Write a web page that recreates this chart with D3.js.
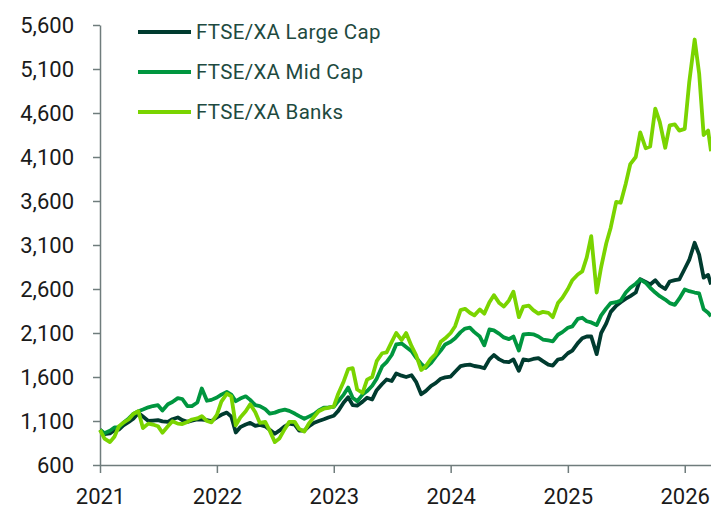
<!DOCTYPE html>
<html>
<head>
<meta charset="utf-8">
<title>FTSE/XA</title>
<style>
  body { margin: 0; background: #fff; }
  svg { display: block; font-family: 'Roboto', 'Noto Sans', sans-serif; }
</style>
<script src="https://d3js.org/d3.v7.min.js"></script>
</head>
<body>
<div id="chart"></div>
<script>
const WIDTH = 711;
const HEIGHT = 508;

// semi-monthly dates (1st and 15th), last point = last day shown
const dates = [];
for (let y = 2021; y <= 2026; y++) {
  for (let m = 1; m <= 12; m++) {
    if (y === 2026 && m > 3) break;
    const mm = String(m).padStart(2, '0');
    dates.push(`${y}-${mm}-01`, `${y}-${mm}-15`);
  }
}
dates.push('2026-03-24');

const largeCap = [
  1000, 950, 960, 995, 1003, 1050, 1090, 1125, 1190, 1150, 1100, 1105,
  1110, 1095, 1090, 1120, 1140, 1110, 1090, 1105, 1117, 1115, 1110, 1100,
  1140, 1170, 1196, 1150, 970, 1030, 1060, 1079, 1045, 1055, 1040, 1000,
  955, 990, 1040, 1070, 1060, 990, 990, 1040, 1080, 1100, 1120, 1140,
  1160, 1215, 1310, 1370, 1280, 1275, 1320, 1364, 1345, 1450, 1520, 1572,
  1555, 1640, 1615, 1600, 1620, 1545, 1405, 1440, 1500, 1530, 1580, 1595,
  1605, 1660, 1723, 1735, 1740, 1725, 1715, 1700, 1800, 1850, 1800, 1775,
  1770, 1800, 1670, 1799, 1790, 1805, 1815, 1780, 1740, 1730, 1799, 1810,
  1870, 1900, 1985, 2040, 2060, 2060, 1860, 2100, 2210, 2340, 2410, 2450,
  2490, 2520, 2560, 2710, 2680, 2651, 2700, 2640, 2600, 2685, 2700, 2708,
  2830, 2930, 3125, 2990, 2730, 2760, 2651
];

const midCap = [
  1000, 960, 990, 1026, 1026, 1080, 1130, 1180, 1211, 1230, 1255, 1270,
  1280, 1220, 1290, 1315, 1360, 1350, 1268, 1270, 1310, 1470, 1330, 1340,
  1367, 1400, 1430, 1400, 1325, 1355, 1380, 1340, 1280, 1270, 1235, 1185,
  1195, 1215, 1230, 1215, 1185, 1155, 1125, 1150, 1180, 1220, 1253, 1255,
  1260, 1325, 1400, 1480, 1364, 1325, 1400, 1440, 1500, 1580, 1720, 1770,
  1850, 1970, 1980, 1940, 1893, 1820, 1750, 1705, 1760, 1830, 1900, 1970,
  2000, 2040, 2110, 2150, 2160, 2110, 2060, 1960, 2140, 2130, 2090, 2050,
  2030, 2060, 1900, 2083, 2090, 2085, 2060, 2026, 2015, 2005, 2080, 2110,
  2159, 2175, 2260, 2273, 2234, 2220, 2190, 2300, 2380, 2440, 2450, 2470,
  2560, 2614, 2660, 2708, 2670, 2614, 2560, 2518, 2480, 2440, 2420, 2490,
  2594, 2575, 2560, 2550, 2370, 2330, 2290
];

const banks = [
  1000, 900, 860, 920, 1041, 1080, 1120, 1180, 1211, 1020, 1070, 1060,
  1041, 966, 1040, 1098, 1070, 1065, 1090, 1117, 1130, 1155, 1100, 1085,
  1170, 1320, 1410, 1380, 1050, 1140, 1211, 1290, 1200, 1079, 1090, 990,
  860, 900, 1010, 1090, 1090, 1010, 980, 1070, 1150, 1211, 1240, 1250,
  1265, 1410, 1550, 1690, 1700, 1458, 1420, 1570, 1600, 1780, 1870, 1880,
  2000, 2100, 2020, 2100, 1950, 1850, 1680, 1720, 1810, 1860, 2000, 2040,
  2100, 2177, 2360, 2375, 2330, 2300, 2367, 2320, 2450, 2530, 2440, 2400,
  2470, 2570, 2280, 2400, 2410, 2360, 2320, 2340, 2330, 2280, 2440, 2500,
  2600, 2700, 2765, 2800, 2960, 3200, 2560, 2850, 3120, 3300, 3590, 3580,
  3800, 4020, 4100, 4380, 4200, 4220, 4650, 4500, 4205, 4460, 4470, 4400,
  4420, 4950, 5435, 5050, 4350, 4400, 4166
];

const seriesNames = ['FTSE/XA Large Cap', 'FTSE/XA Mid Cap', 'FTSE/XA Banks'];
const seriesColors = ['#003b2f', '#00963f', '#7ad400'];
const yTicks = [600, 1100, 1600, 2100, 2600, 3100, 3600, 4100, 4600, 5100, 5600];
const xTicks = ['2021', '2022', '2023', '2024', '2025', '2026'];

const parse = d3.timeParse('%Y-%m-%d');
const series = [largeCap, midCap, banks].map(function (vals, i) {
  return {
    name: seriesNames[i],
    color: seriesColors[i],
    values: vals.map(function (v, j) { return { date: parse(dates[j]), value: v }; })
  };
});

const margin = { top: 25, right: 0, bottom: 43, left: 100 };

const x = d3.scaleTime()
  .domain([parse('2021-01-01'), parse('2026-03-24')])
  .range([margin.left, WIDTH - margin.right]);

const y = d3.scaleLinear()
  .domain([600, 5600])
  .range([HEIGHT - margin.bottom, margin.top]);

const svg = d3.select('#chart')
  .append('svg')
  .attr('width', WIDTH)
  .attr('height', HEIGHT);

const axisColor = '#6f7c7c';

// y axis
const yAxis = svg.append('g')
  .attr('transform', 'translate(' + margin.left + ',0)')
  .call(d3.axisLeft(y).tickValues(yTicks).tickSize(7).tickPadding(19)
    .tickFormat(d3.format(',')).tickSizeOuter(0));
yAxis.select('.domain').attr('stroke', axisColor).attr('stroke-width', 1.5);
yAxis.selectAll('.tick line').attr('stroke', axisColor).attr('stroke-width', 1.5);
yAxis.selectAll('.tick text')
  .attr('fill', '#1a1a1a')
  .attr('font-size', '22px')
  .attr('font-family', 'Roboto, sans-serif');

// x axis
const xAxis = svg.append('g')
  .attr('transform', 'translate(0,' + (HEIGHT - margin.bottom) + ')')
  .call(d3.axisBottom(x)
    .tickValues(xTicks.map(function (t) { return parse(t + '-01-01'); }))
    .tickSize(8).tickPadding(15)
    .tickFormat(d3.timeFormat('%Y')).tickSizeOuter(0));
xAxis.select('.domain').attr('stroke', axisColor).attr('stroke-width', 1.5);
xAxis.selectAll('.tick line').attr('stroke', axisColor).attr('stroke-width', 1.5);
xAxis.selectAll('.tick text')
  .attr('fill', '#1a1a1a')
  .attr('font-size', '22px')
  .attr('font-family', 'Roboto, sans-serif');

// lines
const line = d3.line()
  .x(function (d) { return x(d.date); })
  .y(function (d) { return y(d.value); });

svg.append('g')
  .selectAll('path')
  .data(series)
  .enter()
  .append('path')
  .attr('d', function (d) { return line(d.values); })
  .attr('fill', 'none')
  .attr('stroke', function (d) { return d.color; })
  .attr('stroke-width', 3.8)
  .attr('stroke-linejoin', 'round');

// legend
const legend = svg.append('g')
  .selectAll('g')
  .data(series)
  .enter()
  .append('g')
  .attr('transform', function (d, i) { return 'translate(138,' + (32 + i * 40) + ')'; });

legend.append('line')
  .attr('x1', 0).attr('x2', 53)
  .attr('stroke', function (d) { return d.color; })
  .attr('stroke-width', 3.8);

legend.append('text')
  .attr('x', 58)
  .attr('dy', '0.35em')
  .attr('fill', '#1e4a40')
  .attr('font-size', '20.5px')
  .attr('letter-spacing', '0.3px')
  .text(function (d) { return d.name; });
</script>
</body>
</html>
